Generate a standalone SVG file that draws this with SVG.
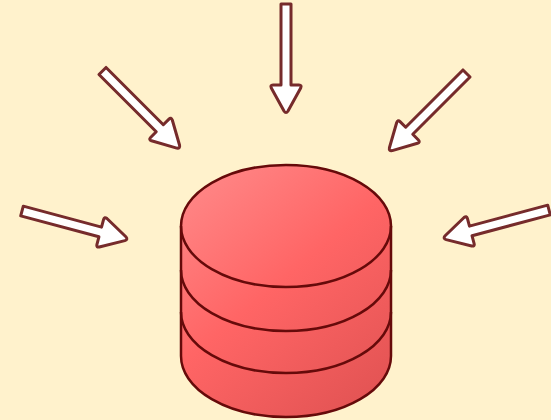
<svg xmlns="http://www.w3.org/2000/svg" width="551" height="420" viewBox="0 0 551 420">
<style>
.arrow{fill:#fff;stroke:#762b2b;stroke-width:3;stroke-linejoin:round}
.disk{fill:none;stroke:#660a0a;stroke-width:2.5}
</style>
<defs>
<linearGradient id="g" gradientUnits="userSpaceOnUse" x1="190" y1="165" x2="400" y2="417">
<stop offset="0" stop-color="#ff8a8a"/>
<stop offset=".45" stop-color="#ff6565"/>
<stop offset="1" stop-color="#dd5050"/>
</linearGradient>
<path id="arrow" class="arrow" d="M0-5H81V-13Q81-16 84-14.700L107-2Q110 0 107 2L84 14.700Q81 16 81 13V5H0Z"/>
</defs>
<rect width="551" height="420" fill="#fff2cc"/>
<g id="connectors">
<use href="#arrow" transform="translate(286 4) rotate(90)"/>
<use href="#arrow" transform="translate(102.500 71) rotate(45)"/>
<use href="#arrow" transform="translate(22 211) rotate(15)"/>
<use href="#arrow" transform="translate(466.500 73.500) rotate(135)"/>
<use href="#arrow" transform="translate(549 210) rotate(165)"/>
</g>
<g id="database">
<path d="M181 226A105 61 0 0 1 391 226V356A105 61 0 0 1 181 356Z" fill="url(#g)" stroke="#660a0a" stroke-width="2.500"/>
<path class="disk" d="M181 226A105 61 0 0 0 391 226"/>
<path class="disk" d="M181 270A105 61 0 0 0 391 270"/>
<path class="disk" d="M181 312A105 61 0 0 0 391 312"/>
</g>
</svg>
